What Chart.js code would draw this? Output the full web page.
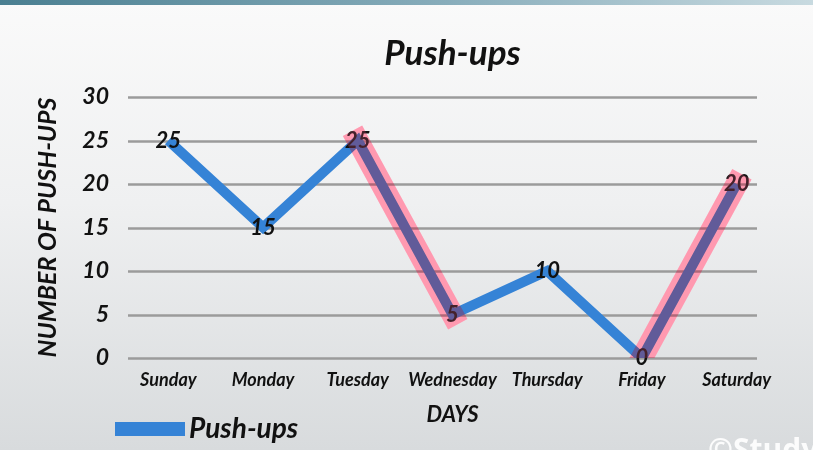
<!DOCTYPE html>
<html>
<head>
<meta charset="utf-8">
<title>Push-ups</title>
<script src="https://cdn.jsdelivr.net/npm/chart.js@4.4.1/dist/chart.umd.min.js"></script>
<style>
    html, body { margin: 0; padding: 0; }
    body {
        width: 813px; height: 450px; overflow: hidden; position: relative;
        background: linear-gradient(to bottom, #fafafa 0%, #eff0f1 45%, #d8dbdd 100%);
    }
    #topbar {
        position: absolute; left: 0; top: 0; width: 813px; height: 5px;
        background: linear-gradient(to right, #4a7f91, #88adbb 55%, #c8dae0);
    }
    #wrap { position: absolute; left: 0; top: 0; width: 813px; height: 450px; }
    #mark {
        position: absolute; left: 708px; top: 428px;
        font: bold 30px "Open Sans", sans-serif; color: rgba(255,255,255,0.9);
        white-space: nowrap;
    }
</style>
</head>
<body>
<div id="topbar"></div>
<div id="wrap"><canvas id="chart" width="813" height="450"></canvas></div>
<div id="mark">©Study.com</div>
<script>
// 数据
const days = ['Sunday', 'Monday', 'Tuesday', 'Wednesday', 'Thursday', 'Friday', 'Saturday'];
const pushUps = [25, 15, 25, 5, 10, 0, 20];
const highlightDays = ['Tuesday', 'Wednesday', 'Friday', 'Saturday'];
const yTicks = [0, 5, 10, 15, 20, 25, 30];

const FONT = 'Lato';
const BLUE = '#3583d6';

// 高亮的线段（其余为空）
const highlight = pushUps.map((v, i) => highlightDays.includes(days[i]) ? v : null);

// 网格线、数据标签、图例
const extras = {
    id: 'extras',
    beforeDatasetsDraw(chart) {
        const ctx = chart.ctx;
        const y = chart.scales.y;
        ctx.save();
        ctx.strokeStyle = '#9b9b9b';
        ctx.lineWidth = 2.5;
        y.ticks.forEach(t => {
            const py = Math.round(y.getPixelForValue(t.value)) + 0.5;
            ctx.beginPath();
            ctx.moveTo(128, py);
            ctx.lineTo(757, py);
            ctx.stroke();
        });
        ctx.restore();
    },
    beforeDatasetDraw(chart, args) {
        if (args.index === 1) {
            chart.ctx.save();
            chart.ctx.globalCompositeOperation = 'multiply';
        }
    },
    afterDatasetDraw(chart, args) {
        const ctx = chart.ctx;
        if (args.index === 1) {
            ctx.restore();
            return;
        }
        if (args.index !== 0) return;
        // 在蓝线上写数值
        ctx.save();
        ctx.font = 'italic bold 22px ' + FONT;
        ctx.fillStyle = '#111';
        ctx.textAlign = 'center';
        ctx.textBaseline = 'middle';
        args.meta.data.forEach((pt, i) => {
            ctx.fillText(String(pushUps[i]), pt.x, pt.y);
        });
        ctx.restore();
    },
    afterDraw(chart) {
        const ctx = chart.ctx;
        const ds = chart.data.datasets[0];
        ctx.save();
        ctx.fillStyle = ds.borderColor;
        ctx.fillRect(115, 422, 70, 14);
        ctx.font = 'italic bold 28px ' + FONT;
        ctx.fillStyle = '#111';
        ctx.textBaseline = 'middle';
        ctx.fillText(ds.label, 189, 429);
        ctx.restore();
    }
};

const bandStyle = {
    borderWidth: 22,
    borderCapStyle: 'square',
    pointRadius: 0,
    spanGaps: false,
    tension: 0
};

new Chart(document.getElementById('chart'), {
    type: 'line',
    data: {
        labels: days,
        datasets: [{
            label: 'Push-ups',
            data: pushUps,
            borderColor: BLUE,
            borderWidth: 10,
            pointRadius: 0,
            tension: 0,
            order: 2
        }, {
            label: 'highlight',
            data: highlight,
            borderColor: 'rgb(255,165,184)',
            order: 1,
            ...bandStyle
        }, {
            label: 'highlight tint',
            data: highlight,
            borderColor: 'rgba(255,115,150,0.22)',
            order: 0,
            ...bandStyle
        }]
    },
    options: {
        responsive: false,
        animation: false,
        layout: { padding: { left: 0, right: 29, top: 0, bottom: 22 } },
        plugins: {
            legend: { display: false },
            tooltip: { enabled: false },
            title: {
                display: true,
                fullSize: false,
                text: 'Push-ups',
                color: '#111',
                font: { family: FONT, size: 35, style: 'italic', weight: 'bold', lineHeight: 1.2 },
                padding: { top: 33, bottom: 22 }
            }
        },
        scales: {
            x: {
                offset: true,
                grid: { display: false, drawTicks: false },
                border: { display: false },
                ticks: {
                    color: '#111',
                    padding: 11,
                    maxRotation: 0,
                    autoSkip: false,
                    font: { family: FONT, size: 18, style: 'italic', weight: 'bold' }
                },
                title: {
                    display: true,
                    text: 'DAYS',
                    color: '#111',
                    font: { family: FONT, size: 22, style: 'italic', weight: 'bold', lineHeight: 1.2 },
                    padding: { top: 0, bottom: 0 }
                },
                afterFit(scale) { scale.height = 70; }
            },
            y: {
                min: 0,
                max: 30,
                grid: { display: false, drawTicks: false },
                border: { display: false },
                afterBuildTicks(scale) { scale.ticks = yTicks.map(v => ({ value: v })); },
                ticks: {
                    color: '#111',
                    padding: 12,
                    font: { family: FONT, size: 23, style: 'italic', weight: 'bold' }
                },
                title: {
                    display: true,
                    text: 'NUMBER OF PUSH-UPS',
                    color: '#111',
                    font: { family: FONT, size: 25, style: 'italic', weight: 'bold', lineHeight: 1.2 },
                    padding: { top: 33, bottom: 0 }
                },
                afterFit(scale) { scale.width = 121; }
            }
        }
    },
    plugins: [extras]
});
</script>
</body>
</html>
